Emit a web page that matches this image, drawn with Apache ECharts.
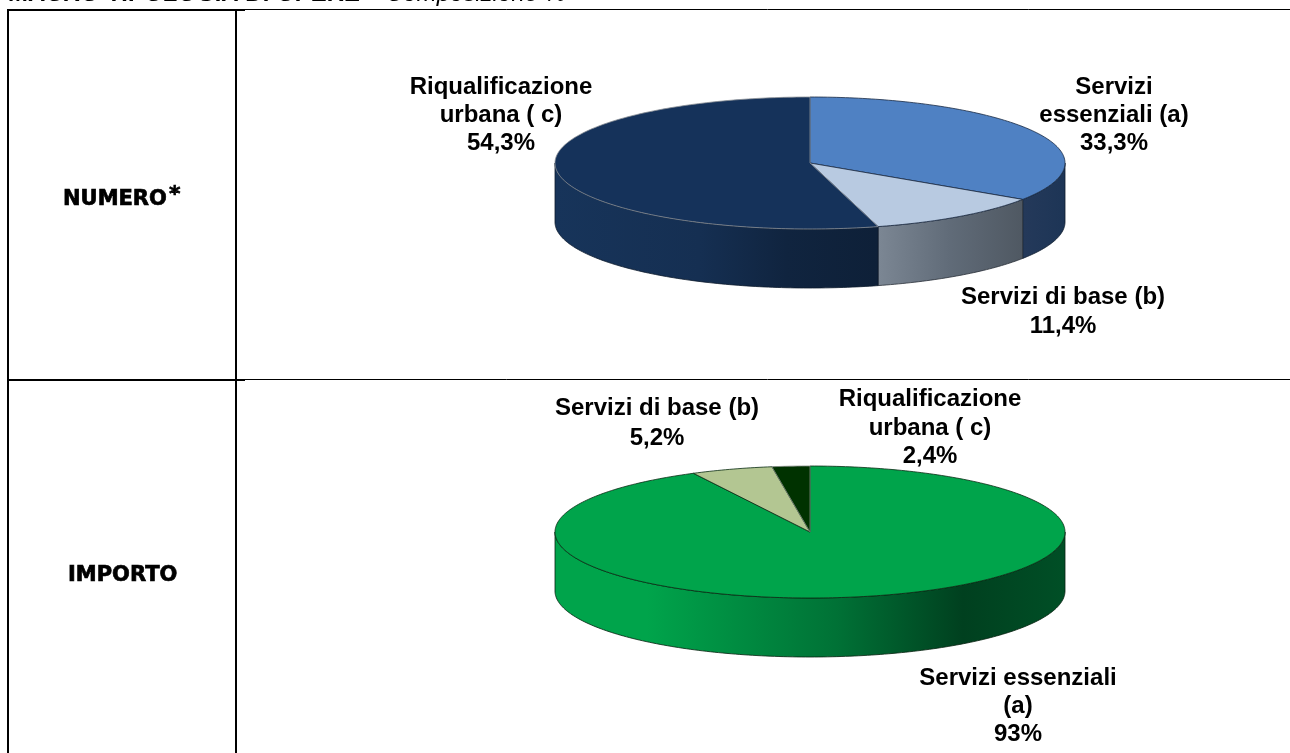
<!DOCTYPE html>
<html><head><meta charset="utf-8">
<style>html,body{margin:0;padding:0;background:#fff;overflow:hidden}#c{width:1290px;height:753px}</style>
<script src="https://cdn.jsdelivr.net/npm/echarts@6/dist/echarts.min.js"></script>
</head><body><div id="c"></div>
<script>
const titleBold = 'MACRO-TIPOLOGIA DI OPERE';
const titleItalic = '– Composizione %';
const rowLabels = ['NUMERO', 'IMPORTO'];

const numeroNames = ['Servizi essenziali (a)', 'Servizi di base (b)', 'Riqualificazione urbana ( c)'];
// Slice sizes as read from the drawn wedges; the printed label of the first says 33,3%, its wedge measures about 34,3%.
const numeroValues = [34.3, 11.4, 54.3];
const numeroLabels = ['Servizi\nessenziali (a)\n33,3%', 'Servizi di base (b)\n11,4%', 'Riqualificazione\nurbana ( c)\n54,3%'];

const importoNames = ['Servizi essenziali (a)', 'Servizi di base (b)', 'Riqualificazione urbana ( c)'];
const importoValues = [93, 5.2, 2.4];
const importoLabels = ['Servizi essenziali\n(a)\n93%', 'Servizi di base (b)\n5,2%', 'Riqualificazione\nurbana ( c)\n2,4%'];

const FONT = 'Liberation Sans';
const HEAVY = 'DejaVu Sans';

function makeRender(cfg, values) {
  const total = values.reduce((a, b) => a + b, 0);
  return function (params, api) {
    const i = params.dataIndex;
    const start = values.slice(0, i).reduce((a, b) => a + b, 0) / total * 360;
    const end = start + values[i] / total * 360;
    const pt = (deg, dy) => {
      const r = deg * Math.PI / 180;
      return [cfg.cx + cfg.rx * Math.sin(r), cfg.cy - cfg.ry * Math.cos(r) + (dy || 0)];
    };
    const arc = (a, b, dy) => {
      const out = [];
      const n = Math.max(2, Math.ceil(b - a));
      for (let k = 0; k <= n; k++) out.push(pt(a + (b - a) * k / n, dy));
      return out;
    };
    const s = cfg.styles[i];
    const children = [];
    const a = Math.max(start, 90), b = Math.min(end, 270);
    if (b > a) {
      const sidePts = arc(a, b, 0).concat(arc(a, b, cfg.depth).reverse());
      children.push({
        type: 'polygon', shape: { points: sidePts },
        style: {
          fill: new echarts.graphic.LinearGradient(s.gx0, 0, s.gx1, 0, s.side.map((c, j) => ({ offset: s.stops ? s.stops[j] : j / (s.side.length - 1), color: c })), true),
          stroke: s.sideStroke, lineWidth: 0.8
        }
      });
    }
    children.push({
      type: 'polygon',
      shape: { points: [[cfg.cx, cfg.cy]].concat(arc(start, end, 0)) },
      style: { fill: s.top, stroke: s.stroke, lineWidth: 0.8 },
      z2: 5
    });
    const lp = cfg.labels[i];
    children.push({
      type: 'text', z2: 10,
      style: { text: cfg.text[i], x: lp[0], y: lp[1], align: 'center', verticalAlign: 'middle',
        fontFamily: FONT, fontWeight: 'bold', fontSize: cfg.labelSize, lineHeight: lp[2], fill: '#000' }
    });
    return { type: 'group', children };
  };
}

const numeroCfg = {
  cx: 810, cy: 163, rx: 255, ry: 66, depth: 59, labelSize: 24,
  text: numeroLabels,
  labels: [[1114, 115, 28], [1063, 312, 29], [501, 115, 28]],
  styles: [
    { top: '#4F81C3', stroke: '#1a2b44', side: ['#24395A', '#1D3556'], gx0: 1024, gx1: 1065, sideStroke: '#0d1a2c' },
    { top: '#B8CAE1', stroke: '#1a2b44', side: ['#7C8794', '#606B78', '#4F5862'], gx0: 877, gx1: 1024, sideStroke: '#2a3038' },
    { top: '#15325A', stroke: '#8a8f96', side: ['#17345A', '#152F52', '#10243F', '#0E2038'], stops: [0, 0.45, 0.72, 1], gx0: 555, gx1: 877, sideStroke: '#0c1a2c' }
  ]
};
const importoCfg = {
  cx: 810, cy: 532, rx: 255, ry: 66, depth: 59, labelSize: 24,
  text: importoLabels,
  labels: [[1018, 706, 28], [657, 423, 30], [930, 428, 28.5]],
  styles: [
    { top: '#00A44B', stroke: '#0a2c14', side: ['#00A44B', '#00A44B', '#007236', '#00401F', '#004F26'], stops: [0, 0.18, 0.55, 0.8, 1], gx0: 555, gx1: 1065, sideStroke: '#06210f' },
    { top: '#B3C692', stroke: '#0a2c14', side: ['#00A44B', '#00A44B'], gx0: 555, gx1: 1065, sideStroke: '#000' },
    { top: '#003200', stroke: '#7d857d', side: ['#003200', '#003200'], gx0: 555, gx1: 1065, sideStroke: '#000' }
  ]
};

const line = (x1, y1, x2, y2, w) => ({ type: 'line', shape: { x1, y1, x2, y2 }, style: { stroke: '#000', lineWidth: w } });
const heavy = (text, x, y, size) => ({ type: 'text', style: { text, x, y, verticalAlign: 'middle', fontFamily: HEAVY, fontWeight: 'bold', fontSize: size, fill: '#000', stroke: '#000', lineWidth: 0.7 } });
const chart = echarts.init(document.getElementById('c'), null, { renderer: 'canvas', width: 1290, height: 753 });
chart.setOption({
  animation: false,
  backgroundColor: '#fff',
  graphic: { elements: [
    line(8, 9, 8, 753, 2), line(236, 10, 236, 753, 2),
    line(7, 10, 245, 10, 2), line(245, 9.5, 1290, 9.5, 1),
    line(8, 380, 245, 380, 2), line(245, 379.5, 1290, 379.5, 1),
    { type: 'text', style: { text: titleBold, x: 9, y: 6, verticalAlign: 'bottom', fontFamily: FONT, fontStyle: 'italic', fontWeight: 'bold', fontSize: 24, fill: '#000' } },
    { type: 'text', style: { text: titleItalic, x: 366, y: 6, verticalAlign: 'bottom', fontFamily: FONT, fontStyle: 'italic', fontSize: 24, fill: '#000' } },
    heavy(rowLabels[0], 63, 200, 21),
    heavy('*', 169, 195, 22),
    heavy(rowLabels[1], 68, 576, 21)
  ] },
  series: [
    { type: 'custom', coordinateSystem: 'none', name: 'NUMERO', silent: true, clip: false,
      data: numeroNames.map((n, i) => ({ name: n, value: numeroValues[i] })), renderItem: makeRender(numeroCfg, numeroValues) },
    { type: 'custom', coordinateSystem: 'none', name: 'IMPORTO', silent: true, clip: false,
      data: importoNames.map((n, i) => ({ name: n, value: importoValues[i] })), renderItem: makeRender(importoCfg, importoValues) }
  ]
});
</script></body></html>
